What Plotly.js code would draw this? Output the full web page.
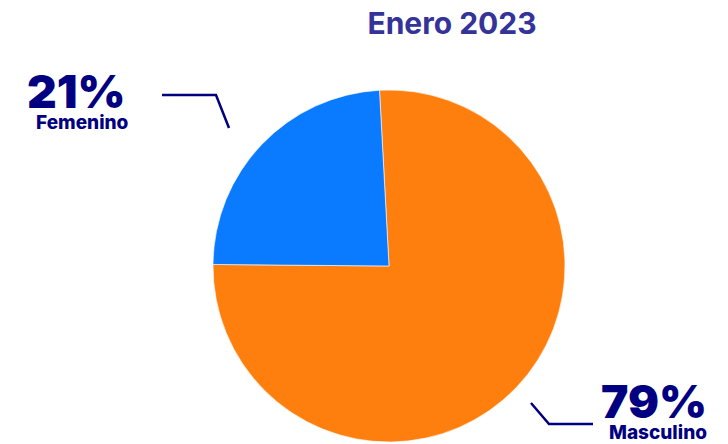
<!DOCTYPE html>
<html><head><meta charset="utf-8">
<script src="https://cdn.plot.ly/plotly-3.0.1.min.js"></script>
<style>html,body{margin:0;padding:0;background:#fff}#chart{width:728px;height:444px}</style>
</head><body><div id="chart"></div>
<script>
var categories = ["Masculino", "Femenino"];
var sliceValues = [76, 24];
var percentLabels = ["79%", "21%"];
var colors = ["#FF7F0E", "#0A7AFF"];

var W = 728, H = 444;
function px(x){ return x / W; }
function py(y){ return 1 - y / H; }
var navy = "#000080";
var FONT = "Inter";

var trace = {
  type: "pie",
  labels: categories,
  values: sliceValues,
  sort: false,
  direction: "clockwise",
  rotation: -3.1,
  textinfo: "none",
  hoverinfo: "label+percent",
  marker: {colors: colors, line: {color: "rgba(255,255,255,0.6)", width: 1}},
  domain: {x: [px(213), px(565)], y: [py(442), py(90)]},
  showlegend: false
};

var pctFont = {family: FONT, size: 46, weight: 900, color: navy};
var nameFont = {family: FONT, size: 19, weight: 800, color: navy};

var annotations = [
  {text: percentLabels[1], x: px(76), y: py(91.3), font: pctFont},
  {text: categories[1], x: px(82.5), y: py(123), font: nameFont},
  {text: percentLabels[0], x: px(654), y: py(401.3), font: pctFont},
  {text: categories[0], x: px(658), y: py(432.5), font: nameFont}
].map(function(a){
  a.xref = "paper"; a.yref = "paper"; a.showarrow = false;
  a.xanchor = "center"; a.yanchor = "middle";
  return a;
});

function pathFrom(pts){
  return pts.map(function(p, i){ return (i ? "L" : "M") + px(p[0]) + "," + py(p[1]); }).join(" ");
}

var shapes = [
  {type: "path", path: pathFrom([[162, 95], [216, 95], [229, 128]])},
  {type: "path", path: pathFrom([[531, 403], [549, 424], [593, 424]])}
].map(function(s){
  s.xref = "paper"; s.yref = "paper";
  s.line = {color: navy, width: 2.5};
  return s;
});

var layout = {
  width: W, height: H,
  margin: {l: 0, r: 0, t: 0, b: 0},
  paper_bgcolor: "#fff",
  title: {text: "Enero 2023", x: px(452), xanchor: "center", y: py(23), yanchor: "middle",
          font: {family: FONT, size: 30, weight: 700, color: "#333399"}},
  annotations: annotations,
  shapes: shapes
};

Plotly.newPlot("chart", [trace], layout, {displayModeBar: false, staticPlot: true});
</script>
</body></html>
